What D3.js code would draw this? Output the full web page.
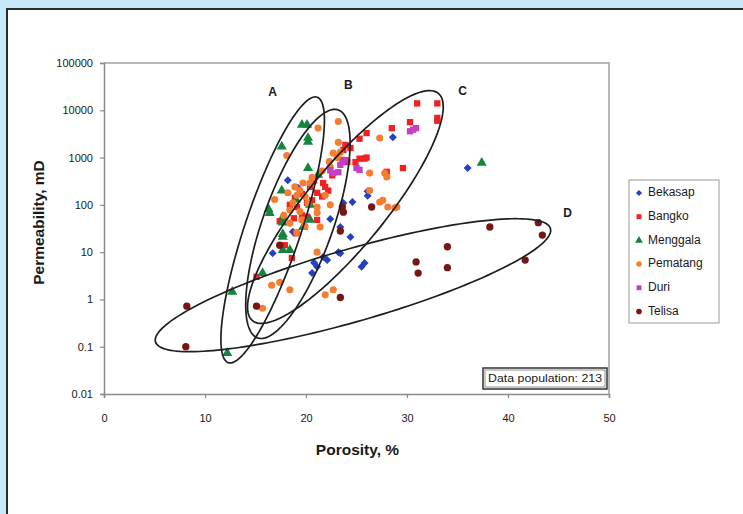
<!DOCTYPE html>
<html>
<head>
<meta charset="utf-8">
<script src="https://cdn.jsdelivr.net/npm/d3@7"></script>
<style>
  html, body { margin: 0; padding: 0; background: #c6e8f8; }
  svg { display: block; font-family: "Liberation Sans", Arial, sans-serif; }
</style>
</head>
<body>
<svg id="chart" width="743" height="514"></svg>
<script>
// ---- axis ticks ----
const xTicks = [0, 10, 20, 30, 40, 50];
const yTicks = [0.01, 0.1, 1, 10, 100, 1000, 10000, 100000];
const yTickLabels = ["0.01", "0.1", "1", "10", "100", "1000", "10000", "100000"];

// ---- core data: [porosity %, permeability mD] ----
const bekasap = [[36.0,600],[28.6,2700],[19.2,230],[22.4,50],[24.6,115],[23.7,110],[26.1,195],[26.1,155],
  [24.4,21],[23.4,34],[18.7,27],[16.7,9.5],[22.1,6.8],[21.1,4.9],[20.6,3.6],[23.4,9.5],[25.8,5.9],
  [25.5,4.9],[23.2,10],[21.7,7.9],[18.2,330],[20.8,6.0]];
const bangko = [[31.0,14000],[33.0,14000],[33.0,6900],[33.0,6000],[30.3,5600],[28.5,4200],[26.0,3300],
  [25.3,2500],[29.6,600],[28.0,500],[25.8,950],[25.3,950],[23.7,890],[15.1,3.0],[18.6,7.5],[24.9,800],
  [26.0,1000],[21.9,240],[22.2,200],[21.6,150],[21.1,180],[20.6,125],[21.1,48],[20.1,56],[23.7,1450],
  [24.4,1600],[23.9,1850],[24.1,810],[21.7,290],[20.4,240],[19.1,90],[20.1,110],[18.4,100],[19.6,60],
  [19.0,25],[17.9,14],[18.9,140],[19.6,170],[20.8,330],[22.6,420],[17.4,45],[18.8,52]];
const menggala = [[37.4,770],[19.6,4900],[20.1,4900],[20.2,2600],[20.2,2150],[17.6,1700],[20.2,600],
  [21.2,430],[17.6,200],[16.4,67],[17.7,55],[17.7,42],[17.7,21],[19.7,34],[18.4,11],[17.7,11],[15.7,3.6],
  [12.7,1.45],[12.2,0.073],[20.4,100],[17.7,24],[20.4,48],[16.3,80],[19.0,130]];
const pematang = [[21.2,4200],[23.2,5800],[18.1,1100],[23.2,2100],[23.4,1300],[23.1,1000],[22.4,630],
  [19.4,200],[19.1,160],[19.9,150],[20.2,110],[18.7,110],[18.4,78],[19.4,72],[21.1,90],[21.9,160],
  [19.6,48],[18.4,41],[27.3,2600],[26.3,470],[29.0,90],[27.6,125],[27.3,115],[28.1,90],[28.8,87],
  [22.7,1.6],[21.1,10],[22.4,100],[16.6,2.0],[17.4,2.3],[18.4,1.6],[15.7,0.65],[21.9,1.25],[27.8,470],
  [28.0,390],[26.3,200],[22.7,1250],[19.7,290],[19.1,26],[21.4,34],[21.1,68],[20.4,290],
  [18.2,180],[18.9,240],[20.6,380],[21.6,520],[17.8,60],[19.9,35],[16.9,130],[22.3,820]];
const duri = [[30.3,3600],[30.9,4200],[30.6,3900],[22.7,470],[23.2,490],[23.6,800],[23.9,880],
  [25.0,600],[25.3,550],[22.4,540],[23.4,700]];
const telisa = [[38.2,34],[43.0,42],[43.4,23],[41.7,6.8],[34.0,13],[34.0,4.7],[30.9,6.2],[31.1,3.6],
  [23.4,1.1],[26.5,90],[23.6,90],[23.7,70],[23.4,28],[8.2,0.72],[8.1,0.1],[15.1,0.72],[17.4,14]];

const seriesNames = ["Bekasap", "Bangko", "Menggala", "Pematang", "Duri", "Telisa"];
const seriesData = [bekasap, bangko, menggala, pematang, duri, telisa];
const seriesColors = ["#2541c2", "#ee2222", "#13853f", "#f67c30", "#c43fc4", "#7a1515"];
const seriesSymbols = [d3.symbolSquare, d3.symbolSquare, d3.symbolTriangle, d3.symbolCircle, d3.symbolSquare, d3.symbolCircle];
const seriesRotation = [45, 0, 0, 0, 0, 0];
const symbolSizes = [32, 40, 44, 40, 40, 42];

// ---- facies envelopes: centre, end of long axis (porosity, permeability), width ratio ----
const envelopeNames = ["A", "B", "C", "D"];
const envelopeCentres = [[16.7, 29.5], [19.2, 39.5], [23.9, 90], [24.65, 2.0]];
const envelopeTips = [[21.1, 18900], [23.2, 10150], [33.1, 22800], [44.2, 31.6]];
const envelopeRatios = [0.2, 0.29, 0.27, 0.176];
const envelopeLabelPos = [[16.7, 23200], [24.2, 32600], [35.5, 24400], [45.9, 64]];

const populationNote = "Data population: 213";

// ---- layout ----
const svg = d3.select("#chart");
const W = 743, H = 514;
const plot = { left: 104, right: 609, top: 63, bottom: 394 };

svg.append("rect").attr("width", W).attr("height", H).attr("fill", "#c6e8f8");
svg.append("rect").attr("x", 7).attr("y", 9).attr("width", W).attr("height", H)
  .attr("fill", "#ffffff").attr("stroke", "#2a2a2a").attr("stroke-width", 2);

const x = d3.scaleLinear().domain([0, 50]).range([plot.left, plot.right]);
const y = d3.scaleLog().domain([0.01, 100000]).range([plot.bottom, plot.top]);

// plot frame (top / right in light grey)
svg.append("path")
  .attr("d", `M${plot.left},${plot.top}H${plot.right}V${plot.bottom}`)
  .attr("fill", "none").attr("stroke", "#b8b8b8").attr("stroke-width", 2);

// axes
const yAxis = d3.axisLeft(y).tickValues(yTicks)
  .tickFormat((d, i) => yTickLabels[i]).tickSizeOuter(0).tickSize(4).tickPadding(7);
const gy = svg.append("g").attr("transform", `translate(${plot.left},0)`).call(yAxis);
const xAxis = d3.axisBottom(x).tickValues(xTicks).tickSizeOuter(0).tickSize(4).tickPadding(16);
const gx = svg.append("g").attr("transform", `translate(0,${plot.bottom})`).call(xAxis);
[gx, gy].forEach(g => {
  g.select(".domain").attr("stroke", "#8a8a8a").attr("stroke-width", 1.5);
  g.selectAll(".tick line").attr("stroke", "#8a8a8a").attr("stroke-width", 1.2);
  g.selectAll(".tick text").attr("fill", "#1a1a1a").attr("font-size", "11px");
});

// axis titles
svg.append("text").attr("x", (plot.left + plot.right) / 2 + 1).attr("y", 455)
  .attr("text-anchor", "middle").attr("font-weight", "bold").attr("font-size", "15.5px")
  .attr("fill", "#1a1a1a").text("Porosity, %");
svg.append("text").attr("transform", `translate(44,${(plot.top + plot.bottom) / 2 - 6}) rotate(-90)`)
  .attr("text-anchor", "middle").attr("font-weight", "bold").attr("font-size", "15.5px")
  .attr("fill", "#1a1a1a").text("Permeability, mD");

// data points
seriesData.forEach((data, si) => {
  const sym = d3.symbol().type(seriesSymbols[si]).size(symbolSizes[si]);
  svg.append("g").selectAll("path").data(data).join("path")
    .attr("transform", d => `translate(${x(d[0])},${y(d[1])}) rotate(${seriesRotation[si]})`)
    .attr("d", sym).attr("fill", seriesColors[si]);
});

// envelopes
const line = d3.line().curve(d3.curveLinearClosed);
envelopeCentres.forEach((c, i) => {
  const cx = x(c[0]), cy = y(c[1]);
  const tx = x(envelopeTips[i][0]), ty = y(envelopeTips[i][1]);
  const a = Math.hypot(tx - cx, ty - cy);
  const b = a * envelopeRatios[i];
  const ux = (tx - cx) / a, uy = (ty - cy) / a;
  const vx = -uy, vy = ux;
  const pts = d3.range(0, 180).map(k => {
    const t = k / 180 * 2 * Math.PI;
    return [cx + a * Math.cos(t) * ux + b * Math.sin(t) * vx,
            cy + a * Math.cos(t) * uy + b * Math.sin(t) * vy];
  });
  svg.append("path").attr("d", line(pts)).attr("fill", "none")
    .attr("stroke", "#1e1e1e").attr("stroke-width", 1.7);
  svg.append("text").attr("x", x(envelopeLabelPos[i][0])).attr("y", y(envelopeLabelPos[i][1]))
    .attr("text-anchor", "middle").attr("dominant-baseline", "middle")
    .attr("font-weight", "bold").attr("font-size", "12px").attr("fill", "#1a1a1a")
    .text(envelopeNames[i]);
});

// population note
const note = svg.append("g").attr("transform", "translate(483,368)");
note.append("rect").attr("width", 124).attr("height", 21).attr("fill", "#fff")
  .attr("stroke", "#333").attr("stroke-width", 1.5);
note.append("rect").attr("x", 2).attr("y", 2).attr("width", 120).attr("height", 17).attr("fill", "none")
  .attr("stroke", "#777").attr("stroke-width", 0.8);
note.append("text").attr("x", 62).attr("y", 11).attr("text-anchor", "middle")
  .attr("dominant-baseline", "middle").attr("font-size", "11.5px").attr("fill", "#1a1a1a")
  .attr("textLength", 114).attr("lengthAdjust", "spacingAndGlyphs").text(populationNote);

// legend
const legend = svg.append("g").attr("transform", "translate(629,180)");
legend.append("rect").attr("width", 90).attr("height", 143).attr("fill", "#fff")
  .attr("stroke", "#999").attr("stroke-width", 1);
seriesNames.forEach((name, i) => {
  const gy0 = 13 + i * 23.7;
  const sym = d3.symbol().type(seriesSymbols[i]).size(symbolSizes[i] * 0.6);
  legend.append("path").attr("transform", `translate(10,${gy0}) rotate(${seriesRotation[i]})`)
    .attr("d", sym).attr("fill", seriesColors[i]);
  legend.append("text").attr("x", 19).attr("y", gy0).attr("dominant-baseline", "middle")
    .attr("font-size", "12px").attr("fill", "#1a1a1a").text(name);
});
</script>
</body>
</html>
